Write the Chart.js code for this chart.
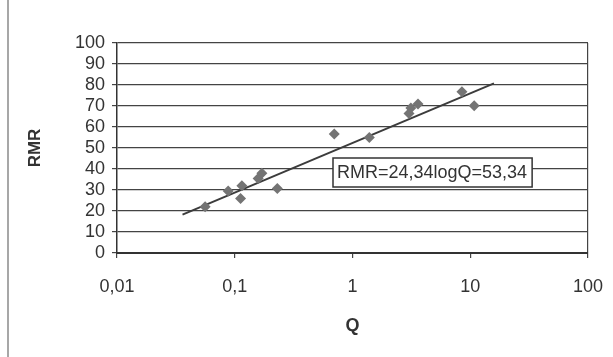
<!DOCTYPE html>
<html>
<head>
<meta charset="utf-8">
<script src="https://cdn.jsdelivr.net/npm/chart.js@4/dist/chart.umd.min.js"></script>
<style>
  html, body { margin: 0; padding: 0; background: #fff; }
  #wrap { width: 613px; height: 357px; position: relative; }
</style>
</head>
<body>
<div id="wrap"><canvas id="c" width="613" height="357"></canvas></div>
<script>
// Measured points (Q, RMR)
const qValues   = [0.056, 0.088, 0.112, 0.115, 0.158, 0.170, 0.23, 0.70, 1.39, 3.02, 3.13, 3.6, 8.5, 10.8];
const rmrValues = [22, 29.5, 26, 32, 35.5, 38, 30.7, 56.7, 55, 66.4, 69, 71, 76.8, 70.1];
// Trend line end points
const trendQ   = [0.036, 15.9];
const trendRMR = [18.3, 80.8];
// Axis ticks
const xTicks = [0.01, 0.1, 1, 10, 100];
const xTickLabels = ['0,01', '0,1', '1', '10', '100'];
const yTicks = [0, 10, 20, 30, 40, 50, 60, 70, 80, 90, 100];
const equationText = 'RMR=24,34logQ=53,34';

const points = qValues.map((q, i) => ({ x: q, y: rmrValues[i] }));
const trend = trendQ.map((q, i) => ({ x: q, y: trendRMR[i] }));

const FONT = 'Liberation Sans, Arial, sans-serif';

const extras = {
  id: 'extras',
  afterDraw(chart) {
    const ctx = chart.ctx;
    const a = chart.chartArea;
    ctx.save();
    // outer frame left line
    ctx.strokeStyle = '#8a8a8a';
    ctx.lineWidth = 1.5;
    ctx.beginPath();
    ctx.moveTo(8, 0); ctx.lineTo(8, 357);
    ctx.stroke();
    // equation box
    ctx.font = '18px ' + FONT;
    const w = ctx.measureText(equationText).width;
    const bx = a.left + 216, by = a.top + 115, bw = w + 9, bh = 29;
    ctx.fillStyle = '#fff';
    ctx.fillRect(bx, by, bw, bh);
    ctx.strokeStyle = '#333';
    ctx.lineWidth = 1.5;
    ctx.strokeRect(bx, by, bw, bh);
    ctx.fillStyle = '#333';
    ctx.textBaseline = 'middle';
    ctx.textAlign = 'left';
    ctx.fillText(equationText, bx + 4, by + bh / 2 + 1);
    ctx.restore();
  }
};

new Chart(document.getElementById('c'), {
  type: 'scatter',
  data: {
    datasets: [
      {
        label: 'RMR',
        data: points,
        pointStyle: 'rectRot',
        pointRadius: 5.5,
        pointHoverRadius: 5.5,
        backgroundColor: '#747474',
        borderColor: '#747474',
        borderWidth: 0,
        showLine: false,
        order: 1
      },
      {
        label: 'trend',
        data: trend,
        showLine: true,
        pointRadius: 0,
        borderColor: '#3c3c3c',
        borderWidth: 2,
        fill: false,
        order: 2
      }
    ]
  },
  options: {
    responsive: false,
    animation: false,
    events: [],
    layout: { padding: { left: 0, right: 25, top: 43, bottom: 0 } },
    plugins: { legend: { display: false }, tooltip: { enabled: false } },
    scales: {
      x: {
        type: 'logarithmic',
        min: 0.01,
        max: 100,
        afterBuildTicks: (s) => { s.ticks = xTicks.map(v => ({ value: v })); },
        afterFit: (s) => { s.height = 104; s.paddingLeft = 0; s.paddingRight = 0; },
        ticks: {
          autoSkip: false,
          maxRotation: 0,
          padding: 18,
          color: '#333',
          font: { family: FONT, size: 18 },
          callback: (v) => { const i = xTicks.indexOf(v); return i >= 0 ? xTickLabels[i] : null; }
        },
        grid: {
          drawOnChartArea: true,
          color: (c) => (c.tick && c.tick.value === 100 ? '#444' : 'rgba(0,0,0,0)'),
          tickColor: '#444',
          tickLength: 5,
          lineWidth: 1.2
        },
        border: { display: true, color: '#333', width: 2 },
        title: {
          display: true,
          text: 'Q',
          color: '#333',
          font: { family: FONT, size: 18, weight: 'bold' },
          padding: { top: 0, bottom: 20 }
        }
      },
      y: {
        min: 0,
        max: 100,
        afterBuildTicks: (s) => { s.ticks = yTicks.map(v => ({ value: v })); },
        afterFit: (s) => { s.width = 117; },
        ticks: {
          autoSkip: false,
          padding: 7,
          color: '#333',
          font: { family: FONT, size: 18 }
        },
        grid: {
          color: '#444',
          tickColor: '#444',
          tickLength: 5,
          lineWidth: 1.2
        },
        border: { display: true, color: '#333', width: 1.5 },
        title: {
          display: true,
          text: 'RMR',
          color: '#333',
          font: { family: FONT, size: 17, weight: 'bold' },
          padding: { top: 25, bottom: 0 }
        }
      }
    }
  },
  plugins: [extras]
});
</script>
</body>
</html>
